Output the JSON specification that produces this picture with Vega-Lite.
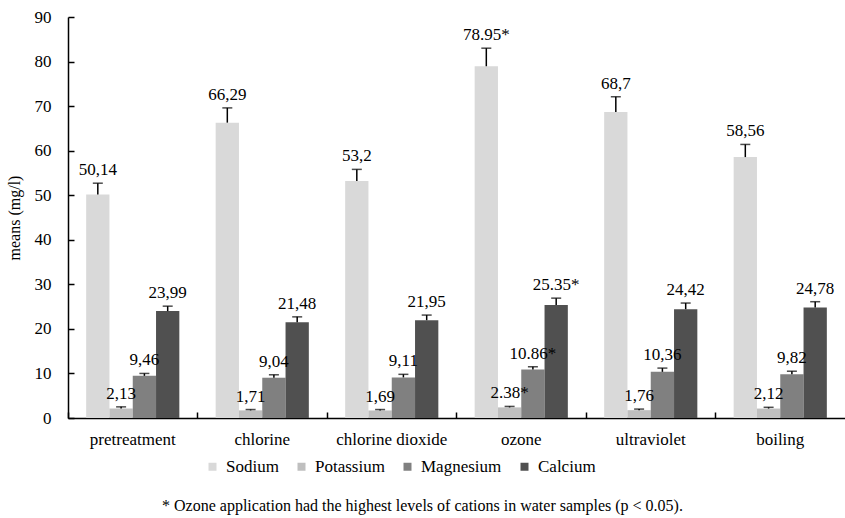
{
  "$schema": "https://vega.github.io/schema/vega-lite/v6.json",
  "width": 777,
  "height": 401,
  "autosize": {"type": "none"},
  "padding": {"left": 68, "top": 17, "right": 0, "bottom": 100},
  "background": "white",
  "title": {"text": "* Ozone application had the highest levels of cations in water samples (p < 0.05).", "orient": "bottom", "anchor": "middle", "font": "Liberation Serif, Times New Roman, serif", "fontSize": 16, "fontWeight": "normal", "color": "#000", "offset": 23, "dx": -34},
  "config": {
    "view": {"stroke": null},
    "font": "Liberation Serif, Times New Roman, serif",
    "axis": {"labelFont": "Liberation Serif, Times New Roman, serif", "titleFont": "Liberation Serif, Times New Roman, serif", "labelColor": "#000", "titleColor": "#000", "domainColor": "#000", "tickColor": "#000", "grid": false, "domainWidth": 1.5, "tickWidth": 1.5},
    "legend": {"labelFont": "Liberation Serif, Times New Roman, serif"},
    "text": {"font": "Liberation Serif, Times New Roman, serif"}
  },
  "data": {"values": [
    {"group": "pretreatment", "ion": "Sodium", "mean": 50.14, "upper": 52.7, "label": "50,14"},
    {"group": "pretreatment", "ion": "Potassium", "mean": 2.13, "upper": 2.5, "label": "2,13"},
    {"group": "pretreatment", "ion": "Magnesium", "mean": 9.46, "upper": 10.0, "label": "9,46"},
    {"group": "pretreatment", "ion": "Calcium", "mean": 23.99, "upper": 25.1, "label": "23,99"},
    {"group": "chlorine", "ion": "Sodium", "mean": 66.29, "upper": 69.6, "label": "66,29"},
    {"group": "chlorine", "ion": "Potassium", "mean": 1.71, "upper": 1.9, "label": "1,71"},
    {"group": "chlorine", "ion": "Magnesium", "mean": 9.04, "upper": 9.7, "label": "9,04"},
    {"group": "chlorine", "ion": "Calcium", "mean": 21.48, "upper": 22.7, "label": "21,48"},
    {"group": "chlorine dioxide", "ion": "Sodium", "mean": 53.2, "upper": 55.8, "label": "53,2"},
    {"group": "chlorine dioxide", "ion": "Potassium", "mean": 1.69, "upper": 1.9, "label": "1,69"},
    {"group": "chlorine dioxide", "ion": "Magnesium", "mean": 9.11, "upper": 9.8, "label": "9,11"},
    {"group": "chlorine dioxide", "ion": "Calcium", "mean": 21.95, "upper": 23.1, "label": "21,95"},
    {"group": "ozone", "ion": "Sodium", "mean": 78.95, "upper": 83.0, "label": "78.95*"},
    {"group": "ozone", "ion": "Potassium", "mean": 2.38, "upper": 2.6, "label": "2.38*"},
    {"group": "ozone", "ion": "Magnesium", "mean": 10.86, "upper": 11.5, "label": "10.86*"},
    {"group": "ozone", "ion": "Calcium", "mean": 25.35, "upper": 26.9, "label": "25.35*"},
    {"group": "ultraviolet", "ion": "Sodium", "mean": 68.7, "upper": 72.1, "label": "68,7"},
    {"group": "ultraviolet", "ion": "Potassium", "mean": 1.76, "upper": 2.0, "label": "1,76"},
    {"group": "ultraviolet", "ion": "Magnesium", "mean": 10.36, "upper": 11.2, "label": "10,36"},
    {"group": "ultraviolet", "ion": "Calcium", "mean": 24.42, "upper": 25.8, "label": "24,42"},
    {"group": "boiling", "ion": "Sodium", "mean": 58.56, "upper": 61.4, "label": "58,56"},
    {"group": "boiling", "ion": "Potassium", "mean": 2.12, "upper": 2.4, "label": "2,12"},
    {"group": "boiling", "ion": "Magnesium", "mean": 9.82, "upper": 10.5, "label": "9,82"},
    {"group": "boiling", "ion": "Calcium", "mean": 24.78, "upper": 26.1, "label": "24,78"}
  ]},
  "encoding": {
    "x": {
      "field": "group", "type": "nominal",
      "sort": ["pretreatment", "chlorine", "chlorine dioxide", "ozone", "ultraviolet", "boiling"],
      "scale": {"paddingInner": 0, "paddingOuter": 0},
      "axis": {
        "title": null, "labelAngle": 0, "labelFontSize": 17, "tickSize": -6, "bandPosition": 0, "labelPadding": 19,
        "encode": {"labels": {"update": {"dx": {"signal": "62 - 5.5*indexof(['pretreatment','chlorine','chlorine dioxide','ozone','ultraviolet','boiling'], datum.value)"}}}}
      }
    },
    "xOffset": {
      "field": "ion", "type": "nominal",
      "sort": ["Sodium", "Potassium", "Magnesium", "Calcium"],
      "scale": {"paddingInner": 0, "paddingOuter": 0.78}
    }
  },
  "layer": [
    {
      "mark": {"type": "bar"},
      "encoding": {
        "y": {"field": "mean", "type": "quantitative",
          "scale": {"domain": [0, 90]},
          "axis": {"title": "means (mg/l)", "titleFontSize": 16, "titleFontWeight": "normal", "values": [0,10,20,30,40,50,60,70,80,90], "labelFontSize": 17, "tickSize": -6, "labelPadding": 23, "titlePadding": 12}
        },
        "color": {
          "field": "ion", "type": "nominal",
          "sort": ["Sodium", "Potassium", "Magnesium", "Calcium"],
          "scale": {"domain": ["Sodium", "Potassium", "Magnesium", "Calcium"], "range": ["#d9d9d9", "#bfbfbf", "#808080", "#505050"]},
          "legend": {"title": null, "orient": "none", "legendX": 136, "legendY": 441, "direction": "horizontal", "symbolType": "square", "symbolSize": 64, "symbolStrokeWidth": 0, "labelFontSize": 17, "labelColor": "#000", "columnPadding": 14, "labelOffset": 5}
        }
      }
    },
    {
      "mark": {"type": "rule", "color": "#000", "strokeWidth": 1.5},
      "encoding": {"y": {"field": "mean", "type": "quantitative"}, "y2": {"field": "upper"}}
    },
    {
      "mark": {"type": "tick", "color": "#000", "thickness": 1.5, "size": 10, "orient": "horizontal"},
      "encoding": {"y": {"field": "upper", "type": "quantitative"}}
    },
    {
      "mark": {"type": "text", "baseline": "alphabetic", "dy": -8, "fontSize": 17, "color": "#000"},
      "encoding": {"y": {"field": "upper", "type": "quantitative"}, "text": {"field": "label"}}
    }
  ]
}
